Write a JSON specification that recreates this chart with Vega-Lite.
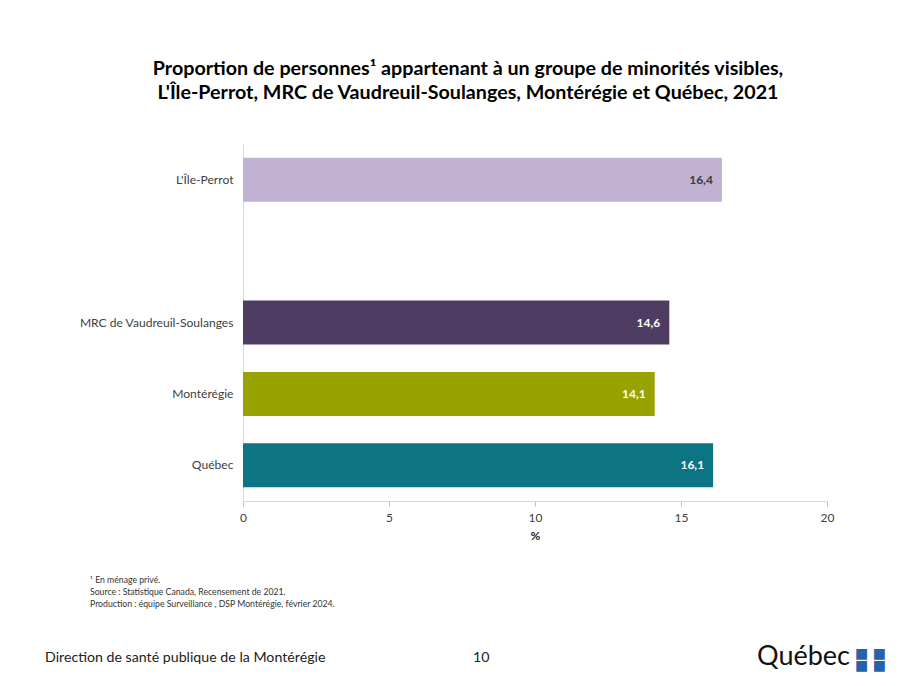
{
  "$schema": "https://vega.github.io/schema/vega-lite/v6.json",
  "padding": {"left": 45, "top": 59, "right": 5, "bottom": 5},
  "background": "white",
  "config": {
    "view": {"stroke": null},
    "font": "Lato",
    "locale": {"number": {"decimal": ",", "thousands": " ", "grouping": [3], "currency": ["", " $"]}}
  },
  "bounds": "flush",
  "spacing": 20,
  "vconcat": [
    {
      "width": 584,
      "height": 357,
      "title": {
        "text": ["Proportion de personnes¹ appartenant à un groupe de minorités visibles,", "L'Île-Perrot, MRC de Vaudreuil-Soulanges, Montérégie et Québec, 2021"],
        "font": "Lato",
        "fontSize": 19.7,
        "fontWeight": "bold",
        "color": "#000000",
        "anchor": "middle",
        "frame": "group",
        "dx": -67,
        "offset": 41,
        "lineHeight": 24
      },
      "data": {"values": [
        {"region": "L'Île-Perrot", "pct": 16.4},
        {"region": "MRC de Vaudreuil-Soulanges", "pct": 14.6},
        {"region": "Montérégie", "pct": 14.1},
        {"region": "Québec", "pct": 16.1}
      ]},
      "encoding": {
        "y": {
          "field": "region",
          "type": "nominal",
          "sort": null,
          "scale": {"domain": ["L'Île-Perrot", " ", "MRC de Vaudreuil-Soulanges", "Montérégie", "Québec"], "paddingInner": 0.384, "paddingOuter": 0.192},
          "axis": {"title": null, "ticks": false, "domainColor": "#d9d9d9", "labelFontSize": 12.1, "labelColor": "#404040", "labelPadding": 10, "labelFont": "Lato"}
        },
        "x": {
          "field": "pct",
          "type": "quantitative",
          "scale": {"domain": [0, 20], "nice": false},
          "axis": {"title": "%", "titleFontSize": 12, "titleFontWeight": "bold", "titleColor": "#222222", "titleFont": "Lato", "grid": false, "values": [0, 5, 10, 15, 20], "tickColor": "#bfbfbf", "domainColor": "#d9d9d9", "tickSize": 5, "labelFontSize": 12, "labelColor": "#404040", "labelFont": "Lato", "labelPadding": 6, "titlePadding": 7, "labelFlush": false}
        }
      },
      "layer": [
        {
          "mark": {"type": "bar"},
          "encoding": {
            "color": {
              "field": "region",
              "type": "nominal",
              "scale": {"domain": ["L'Île-Perrot", "MRC de Vaudreuil-Soulanges", "Montérégie", "Québec"], "range": ["#C1B2D3", "#4E3C63", "#98A300", "#0C7482"]},
              "legend": null
            }
          }
        },
        {
          "mark": {"type": "text", "align": "right", "dx": -9, "fontWeight": "bold", "fontSize": 12, "font": "Lato"},
          "encoding": {
            "text": {"field": "pct", "type": "quantitative", "format": ".1f"},
            "color": {"condition": {"test": "datum.region === \"L'Île-Perrot\"", "value": "#3a3a3a"}, "value": "#ffffff"}
          }
        }
      ]
    },
    {
      "width": 584,
      "height": 55,
      "data": {"values": []},
      "mark": "point",
      "encoding": {},
      "title": {
        "text": ["¹ En ménage privé.", "Source : Statistique Canada, Recensement de 2021.", "Production : équipe Surveillance , DSP Montérégie, février 2024."],
        "orient": "bottom",
        "anchor": "start",
        "frame": "group",
        "dx": -153,
        "offset": 0,
        "font": "Lato",
        "fontSize": 8.7,
        "fontWeight": "normal",
        "color": "#333333",
        "lineHeight": 12
      }
    },
    {
      "bounds": "flush",
      "spacing": 0,
      "hconcat": [
        {
          "width": 230, "height": 55,
          "data": {"values": []}, "mark": "point", "encoding": {},
          "title": {"text": "Direction de santé publique de la Montérégie", "orient": "bottom", "anchor": "start", "frame": "group", "dx": -198, "offset": 0, "font": "Lato", "fontSize": 14.2, "fontWeight": "normal", "color": "#222222"}
        },
        {
          "width": 284, "height": 55,
          "data": {"values": []}, "mark": "point", "encoding": {},
          "title": {"text": "10", "orient": "bottom", "anchor": "start", "frame": "group", "offset": 0, "font": "Lato", "fontSize": 14.2, "fontWeight": "normal", "color": "#222222"}
        },
        {
          "width": 95, "height": 55,
          "data": {"values": []}, "mark": "point", "encoding": {},
          "title": {"text": "Québec", "orient": "bottom", "anchor": "start", "frame": "group", "offset": -7, "font": "Lato", "fontSize": 27, "fontWeight": "normal", "color": "#111111"}
        },
        {
          "width": 34, "height": 55,
          "data": {"values": []}, "mark": "point", "encoding": {},
          "title": {"text": ["■ ■", "■ ■"], "orient": "bottom", "anchor": "start", "frame": "group", "offset": -4, "dx": 3, "font": "DejaVu Sans", "fontSize": 14, "lineHeight": 12, "fontWeight": "normal", "color": "#2462ac"}
        }
      ]
    }
  ]
}
